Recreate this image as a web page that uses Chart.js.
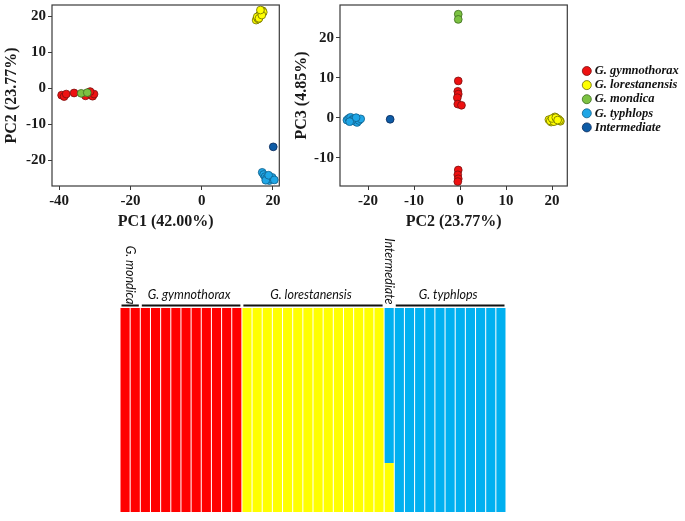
<!DOCTYPE html>
<html>
<head>
<meta charset="utf-8">
<script src="https://cdn.jsdelivr.net/npm/chart.js@4.4.1/dist/chart.umd.min.js"></script>
<style>
  html, body { margin: 0; padding: 0; background: #fff; }
  #wrap { position: relative; width: 685px; height: 521px; overflow: hidden; }
  canvas { position: absolute; }
</style>
</head>
<body>
<div id="wrap">
  <canvas id="pcaLeft" width="285" height="235" style="left:0;top:0"></canvas>
  <canvas id="pcaRight" width="400" height="235" style="left:285px;top:0"></canvas>
  <canvas id="structure" width="685" height="286" style="left:0;top:235px"></canvas>
</div>
<script>
// ─── Data ─────────────────────────────────────────────────────────────────────

const groupNames = ['G. gymnothorax', 'G. lorestanensis', 'G. mondica', 'G. typhlops', 'Intermediate'];
const groupColors = ['#ee1111', '#ffff00', '#7cc242', '#1fa6e6', '#0e5ca6'];
const groupBorders = ['#7a1010', '#6b6b00', '#3d6b1f', '#10608a', '#0a2a5a'];

// PC1 vs PC2
const gymnoPC1 = [-39.3, -38.6, -38.0, -35.8, -32.6, -31.6, -31.0, -30.6, -30.2, -31.3];
const gymnoPC2 = [-1.9, -2.3, -1.6, -1.3, -2.1, -1.2, -1.8, -2.2, -1.6, -0.9];
const loresPC1 = [15.3, 15.7, 16.0, 16.4, 16.8, 17.1, 15.9, 16.2, 16.6, 17.3, 15.6, 16.1, 16.9, 16.5];
const loresPC2 = [19.0, 19.6, 20.1, 20.6, 21.1, 21.6, 19.3, 20.3, 20.9, 21.2, 19.9, 19.5, 20.4, 21.8];
const mondPC1 = [-33.8, -32.1];
const mondPC2 = [-1.4, -1.2];
const typhPC1 = [17.0, 17.4, 17.8, 18.2, 18.6, 19.0, 19.4, 19.8, 18.0, 18.8, 20.4];
const typhPC2 = [-23.4, -24.0, -24.6, -25.0, -25.4, -25.7, -25.2, -24.8, -25.6, -24.2, -25.5];
const interPC1 = [20.1];
const interPC2 = [-16.3];

// PC2 vs PC3
const gymnoB_PC2 = [-0.4, -0.5, -0.4, -0.6, -0.5, 0.3, -0.4, -0.5, -0.4, -0.5];
const gymnoB_PC3 = [9.2, 6.6, 5.9, 5.0, 3.4, 3.1, -13.1, -14.3, -15.3, -16.0];
const loresB_PC2 = [19.3, 19.8, 20.6, 21.1, 21.8, 20.2, 20.9, 19.6, 21.4, 20.4, 21.6, 20.0, 20.8, 21.2];
const loresB_PC3 = [-0.5, -1.1, 0.2, -0.3, -0.9, -0.6, -0.1, -0.8, -0.4, -1.0, -0.7, -0.2, 0.0, -0.6];
const mondB_PC2 = [-0.4, -0.4];
const mondB_PC3 = [25.9, 24.6];
const typhB_PC2 = [-24.6, -24.2, -23.8, -23.3, -22.9, -22.4, -22.0, -21.6, -23.6, -22.6, -24.0];
const typhB_PC3 = [-0.6, -0.2, 0.1, -0.4, -0.9, -1.2, -0.7, -0.3, -0.8, 0.0, -1.0];
const interB_PC2 = [-15.2];
const interB_PC3 = [-0.4];

const pc1Ticks = [-40, -20, 0, 20];
const pc2TicksLeft = [-20, -10, 0, 10, 20];
const pc2TicksRight = [-20, -10, 0, 10, 20];
const pc3Ticks = [-10, 0, 10, 20];

// STRUCTURE q-values (K = 3) per individual
const sampleIds = ['Gm1', 'Gm2', 'Gg1', 'Gg2', 'Gg3', 'Gg4', 'Gg5', 'Gg6', 'Gg7', 'Gg8', 'Gg9', 'Gg10',
  'Gl1', 'Gl2', 'Gl3', 'Gl4', 'Gl5', 'Gl6', 'Gl7', 'Gl8', 'Gl9', 'Gl10', 'Gl11', 'Gl12', 'Gl13', 'Gl14',
  'Int1', 'Gt1', 'Gt2', 'Gt3', 'Gt4', 'Gt5', 'Gt6', 'Gt7', 'Gt8', 'Gt9', 'Gt10', 'Gt11'];
const qRed = [1, 1, 1, 1, 1, 1, 1, 1, 1, 1, 1, 1,
  0, 0, 0, 0, 0, 0, 0, 0, 0, 0, 0, 0, 0, 0,
  0, 0, 0, 0, 0, 0, 0, 0, 0, 0, 0, 0];
const qYellow = [0, 0, 0, 0, 0, 0, 0, 0, 0, 0, 0, 0,
  1, 1, 1, 1, 1, 1, 1, 1, 1, 1, 1, 1, 1, 1,
  0.24, 0, 0, 0, 0, 0, 0, 0, 0, 0, 0, 0];
const qBlue = [0, 0, 0, 0, 0, 0, 0, 0, 0, 0, 0, 0,
  0, 0, 0, 0, 0, 0, 0, 0, 0, 0, 0, 0, 0, 0,
  0.76, 1, 1, 1, 1, 1, 1, 1, 1, 1, 1, 1];
const clusterColors = ['#ff0000', '#ffff00', '#00b0f0'];

const structGroups = ['G. mondica', 'G. gymnothorax', 'G. lorestanensis', 'Intermediate', 'G. typhlops'];
const structGroupSizes = [2, 10, 14, 1, 11];
const structGroupVertical = [true, false, false, true, false];

// ─── Helpers ──────────────────────────────────────────────────────────────────

const serif = '"Liberation Serif", "Times New Roman", serif';

function toPoints(xs, ys) {
  return xs.map((x, i) => ({ x, y: ys[i] }));
}

function makeDatasets(pairs) {
  return pairs.map(([xs, ys], i) => ({
    label: groupNames[i],
    data: toPoints(xs, ys),
    backgroundColor: groupColors[i],
    borderColor: groupBorders[i],
    borderWidth: 0.8,
    pointRadius: 3.9,
    pointHoverRadius: 3.9,
    order: (i === 2 || i === 4) ? 0 : 1,
  }));
}

// fixedSize pins the axis box so the plot frame lands where the figure has it
function axis(ticks, min, max, title, titlePad, fixedSize, isX) {
  return {
    type: 'linear',
    min, max,
    afterBuildTicks: (scale) => { scale.ticks = ticks.map((v) => ({ value: v })); },
    afterFit: (scale) => { if (isX) scale.height = fixedSize; else scale.width = fixedSize; },
    grid: { display: true, drawOnChartArea: false, drawTicks: true, tickLength: 4, color: '#3a3a3a' },
    border: { display: false },
    ticks: {
      color: '#1a1a1a', padding: 2,
      // small lineHeight on y ticks keeps Chart.js from reserving extra top padding
      font: { family: serif, size: 15, weight: 'bold', lineHeight: isX ? 1.2 : 0.4 },
      callback: (v) => String(v),
    },
    title: {
      display: true, text: title, color: '#1a1a1a',
      font: { family: serif, size: 16, weight: 'bold' },
      padding: titlePad,
    },
  };
}

const framePlugin = {
  id: 'frame',
  afterDatasetsDraw(chart) {
    const { ctx, chartArea: a } = chart;
    ctx.save();
    ctx.strokeStyle = '#3a3a3a';
    ctx.lineWidth = 1.2;
    ctx.strokeRect(a.left, a.top, a.right - a.left, a.bottom - a.top);
    ctx.restore();
  },
};

const sideLegendPlugin = {
  id: 'sideLegend',
  afterDraw(chart) {
    const { ctx, chartArea: a } = chart;
    ctx.save();
    ctx.font = `italic bold 12.5px ${serif}`;
    ctx.textBaseline = 'middle';
    ctx.textAlign = 'left';
    chart.data.datasets.forEach((ds, i) => {
      const y = a.top + 66 + i * 14.1;
      ctx.beginPath();
      ctx.arc(a.right + 19.5, y, 4.5, 0, Math.PI * 2);
      ctx.fillStyle = ds.backgroundColor;
      ctx.fill();
      ctx.lineWidth = 0.8;
      ctx.strokeStyle = ds.borderColor;
      ctx.stroke();
      ctx.fillStyle = '#111';
      ctx.fillText(ds.label, a.right + 27.5, y);
    });
    ctx.restore();
  },
};

const commonOpts = {
  responsive: false,
  animation: false,
  plugins: { legend: { display: false }, tooltip: { enabled: false } },
};

// ─── PCA: PC1 vs PC2 ──────────────────────────────────────────────────────────

new Chart(document.getElementById('pcaLeft'), {
  type: 'scatter',
  data: {
    datasets: makeDatasets([
      [gymnoPC1, gymnoPC2], [loresPC1, loresPC2], [mondPC1, mondPC2], [typhPC1, typhPC2], [interPC1, interPC2],
    ]),
  },
  options: {
    ...commonOpts,
    layout: { padding: { left: 0, top: 4, right: 5.7, bottom: 0 } },
    scales: {
      x: axis(pc1Ticks, -42.0, 21.8, 'PC1 (42.00%)', { top: 0, bottom: 4 }, 49, true),
      y: axis(pc2TicksLeft, -27.2, 23.2, 'PC2 (23.77%)', { top: 2, bottom: 0 }, 52, false),
    },
  },
  plugins: [framePlugin],
});

// ─── PCA: PC2 vs PC3 ──────────────────────────────────────────────────────────

new Chart(document.getElementById('pcaRight'), {
  type: 'scatter',
  data: {
    datasets: makeDatasets([
      [gymnoB_PC2, gymnoB_PC3], [loresB_PC2, loresB_PC3], [mondB_PC2, mondB_PC3], [typhB_PC2, typhB_PC3], [interB_PC2, interB_PC3],
    ]),
  },
  options: {
    ...commonOpts,
    layout: { padding: { left: 0, top: 4, right: 117.7, bottom: 0 } },
    scales: {
      x: axis(pc2TicksRight, -26.1, 23.3, 'PC2 (23.77%)', { top: 0, bottom: 4 }, 49, true),
      y: axis(pc3Ticks, -17.1, 28.2, 'PC3 (4.85%)', { top: 7, bottom: 0 }, 55, false),
    },
  },
  plugins: [framePlugin, sideLegendPlugin],
});

// ─── STRUCTURE bar plot ───────────────────────────────────────────────────────

const groupLabelPlugin = {
  id: 'groupLabels',
  afterDraw(chart) {
    const { ctx, chartArea: a } = chart;
    const xs = chart.scales.x;
    const half = (xs.getPixelForValue(1) - xs.getPixelForValue(0)) / 2;
    let start = 0;
    ctx.save();
    ctx.fillStyle = '#111';
    ctx.strokeStyle = '#111';
    ctx.font = 'italic 12.5px Lato, "Liberation Sans", sans-serif';
    structGroups.forEach((name, g) => {
      const end = start + structGroupSizes[g] - 1;
      const x0 = xs.getPixelForValue(start) - half;
      const x1 = xs.getPixelForValue(end) + half;
      const cx = (x0 + x1) / 2;
      if (structGroupVertical[g]) {
        ctx.save();
        ctx.translate(cx, a.top - 3.5);
        ctx.rotate(Math.PI / 2);
        ctx.textAlign = 'right';
        ctx.textBaseline = 'middle';
        ctx.fillText(name, 0, 0);
        ctx.restore();
      } else {
        ctx.textAlign = 'center';
        ctx.textBaseline = 'alphabetic';
        ctx.fillText(name, cx - 2, a.top - 9);
      }
      if (name !== 'Intermediate') {
        ctx.beginPath();
        ctx.lineWidth = 2;
        ctx.moveTo(x0 + 1.5, a.top - 2.5);
        ctx.lineTo(x1 - 1.5, a.top - 2.5);
        ctx.stroke();
      }
      start = end + 1;
    });
    ctx.restore();
  },
};

new Chart(document.getElementById('structure'), {
  type: 'bar',
  data: {
    labels: sampleIds,
    datasets: [qRed, qYellow, qBlue].map((q, i) => ({
      label: `Cluster ${i + 1}`,
      data: q,
      backgroundColor: clusterColors[i],
      borderWidth: 0,
      barPercentage: 0.9,
      categoryPercentage: 1,
    })),
  },
  options: {
    ...commonOpts,
    layout: { padding: { left: 120, right: 179, top: 73, bottom: 9 } },
    scales: {
      x: { stacked: true, display: false },
      y: { stacked: true, display: false, min: 0, max: 1 },
    },
  },
  plugins: [groupLabelPlugin],
});
</script>
</body>
</html>
